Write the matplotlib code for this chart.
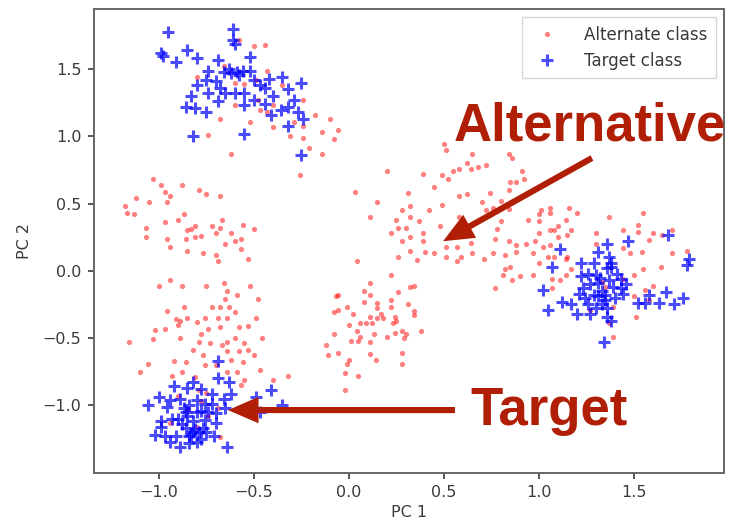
import matplotlib
matplotlib.use("Agg")
import matplotlib.pyplot as plt

# ---- Alternate class (PC1, PC2) ----
alt_top_left = [
    (-0.58, 1.72), (-0.50, 1.67), (-0.44, 1.68), (-0.66, 1.52), (-0.80, 1.44), (-0.60, 1.40),
    (-0.55, 1.39), (-0.49, 1.42), (-0.43, 1.49), (-0.35, 1.38), (-0.24, 1.27), (-0.60, 1.23),
    (-0.48, 1.27), (-0.47, 1.20), (-0.40, 1.23), (-0.43, 1.18), (-0.68, 1.13), (-0.52, 1.11),
    (-0.40, 1.07), (-0.29, 1.11), (-0.24, 1.08), (-0.18, 1.16), (-0.10, 1.13), (-0.14, 1.03),
    (-0.06, 1.05), (-0.08, 0.98), (-0.31, 1.00), (-0.24, 0.99), (-0.74, 1.01), (-0.62, 0.87),
    (-0.21, 0.91), (-0.14, 0.87), (-0.26, 0.71),
]
alt_mid_left = [
    (-1.03, 0.68), (-0.99, 0.64), (-0.88, 0.64), (-0.97, 0.59), (-0.94, 0.56), (-1.12, 0.54),
    (-1.05, 0.51), (-0.96, 0.51), (-0.79, 0.60), (-0.75, 0.57), (-0.68, 0.56), (-1.18, 0.48),
    (-1.17, 0.43), (-1.13, 0.42), (-0.87, 0.42), (-0.90, 0.38), (-0.97, 0.36), (-0.67, 0.38),
    (-1.07, 0.32), (-1.07, 0.25), (-0.85, 0.30), (-0.81, 0.33), (-0.72, 0.33), (-0.68, 0.32),
    (-0.56, 0.34), (-0.50, 0.31), (-0.70, 0.28), (-0.62, 0.28), (-0.86, 0.24), (-0.81, 0.25),
    (-0.96, 0.24), (-0.57, 0.24), (-0.60, 0.22), (-0.65, 0.20), (-0.94, 0.18), (-0.85, 0.15),
    (-0.77, 0.13), (-0.70, 0.12), (-0.57, 0.16), (-0.53, 0.09), (-0.69, 0.07), (-0.78, 0.26),
    (-0.83, 0.31),
]
alt_low_left = [
    (-0.94, -0.07), (-1.00, -0.11), (-0.88, -0.11), (-0.75, -0.11), (-0.66, -0.09), (-0.52, -0.11),
    (-0.64, -0.15), (-0.59, -0.18), (-0.65, -0.21), (-0.48, -0.21), (-0.96, -0.30), (-0.87, -0.27),
    (-0.72, -0.27), (-0.68, -0.27), (-0.63, -0.27), (-0.60, -0.31), (-0.91, -0.36), (-0.85, -0.35),
    (-0.76, -0.35), (-0.69, -0.35), (-0.64, -0.35), (-0.49, -0.35), (-0.89, -0.37), (-0.80, -0.38),
    (-1.02, -0.44), (-0.97, -0.43), (-0.90, -0.40), (-0.78, -0.47), (-0.74, -0.43), (-0.68, -0.42),
    (-0.58, -0.42), (-0.53, -0.41), (-1.16, -0.53), (-1.03, -0.51), (-0.89, -0.50), (-0.79, -0.53),
    (-0.73, -0.54), (-0.67, -0.55), (-0.64, -0.53), (-0.60, -0.50), (-0.55, -0.54), (-0.46, -0.50),
    (-0.82, -0.59), (-0.77, -0.63), (-0.64, -0.60), (-0.58, -0.60), (-0.53, -0.59), (-0.50, -0.63),
    (-0.92, -0.67), (-0.86, -0.68), (-0.76, -0.70), (-0.70, -0.70), (-0.62, -0.66), (-0.56, -0.68),
    (-1.06, -0.69), (-1.10, -0.75), (-0.88, -0.75), (-0.81, -0.79), (-0.64, -0.75), (-0.59, -0.75),
    (-0.55, -0.81), (-0.47, -0.74), (-0.40, -0.81), (-0.32, -0.78), (-0.93, -0.78), (-0.57, -0.85),
    (-0.79, -0.89), (-0.75, -0.91), (-0.69, -1.02), (-0.94, -1.13), (-0.68, -1.24), (-0.80, -1.16),
    (-0.85, -1.03), (-0.74, -1.08), (-0.90, -0.93), (-0.78, -0.97),
]
alt_center = [
    (0.50, 0.94), (0.51, 0.90), (0.65, 0.87), (0.62, 0.80), (0.64, 0.76), (0.68, 0.77),
    (0.72, 0.79), (0.58, 0.76), (0.55, 0.74), (0.84, 0.87), (0.86, 0.84), (0.91, 0.74),
    (0.85, 0.66), (0.88, 0.66), (0.92, 0.68), (0.20, 0.74), (0.39, 0.72), (0.49, 0.71),
    (0.52, 0.68), (0.45, 0.62), (0.03, 0.59), (0.31, 0.58), (0.58, 0.56), (0.62, 0.57),
    (0.74, 0.58), (0.70, 0.51), (0.80, 0.52), (0.84, 0.60), (0.15, 0.51), (0.32, 0.48),
    (0.49, 0.49), (0.42, 0.45), (0.28, 0.45), (0.72, 0.45), (0.76, 0.47), (0.84, 0.46),
    (0.11, 0.40), (0.32, 0.40), (0.25, 0.38), (0.37, 0.37), (0.58, 0.40), (0.80, 0.37),
    (0.22, 0.28), (0.26, 0.32), (0.30, 0.32), (0.39, 0.28), (0.48, 0.33), (0.32, 0.25),
    (0.39, 0.22), (0.28, 0.22), (0.78, 0.31), (0.77, 0.24), (0.84, 0.22), (0.88, 0.19),
    (0.93, 0.20), (0.98, 0.22), (0.51, 0.18), (0.57, 0.18), (0.64, 0.21), (0.32, 0.15),
    (0.40, 0.14), (0.45, 0.13), (0.51, 0.10), (0.59, 0.10), (0.65, 0.13), (0.71, 0.09),
    (0.76, 0.13), (0.82, 0.12), (0.88, 0.14), (0.97, 0.13), (0.26, 0.10), (0.36, 0.08),
    (0.57, 0.07), (0.04, 0.07), (0.85, 0.03), (0.81, -0.03), (0.86, -0.07), (0.90, -0.04),
    (0.97, -0.03), (0.77, -0.13), (0.82, 0.01),
]
alt_lower_mid = [
    (0.22, -0.03), (0.11, -0.09), (0.32, -0.12), (0.26, -0.16), (0.08, -0.15), (0.11, -0.18),
    (-0.06, -0.18), (0.02, -0.32), (0.15, -0.24), (0.22, -0.22), (0.31, -0.25), (0.34, -0.30),
    (0.17, -0.32), (0.08, -0.23), (0.15, -0.28), (0.34, -0.11), (0.22, -0.27), (-0.08, -0.31),
    (0.34, -0.33), (0.11, -0.34), (0.15, -0.35), (0.18, -0.35), (0.24, -0.34), (0.25, -0.37),
    (0.06, -0.39), (0.09, -0.39), (0.12, -0.39), (0.00, -0.40), (0.23, -0.39), (0.04, -0.45),
    (0.13, -0.47), (0.20, -0.49), (0.24, -0.46), (0.28, -0.45), (0.30, -0.47), (0.38, -0.45),
    (0.06, -0.49), (0.05, -0.52), (0.01, -0.52), (0.11, -0.53), (0.29, -0.50), (0.11, -0.62),
    (0.14, -0.66), (0.00, -0.66), (0.28, -0.61), (0.28, -0.69), (0.05, -0.78), (-0.02, -0.76),
    (-0.07, -0.19), (-0.06, -0.29), (-0.01, -0.27), (-0.12, -0.55), (-0.11, -0.63), (-0.06, -0.61),
    (-0.02, -0.89), (-0.01, -0.69), (-0.08, -0.47),
]
alt_right = [
    (1.01, 0.45), (1.06, 0.47), (0.94, 0.38), (1.00, 0.42), (1.08, 0.30), (1.10, 0.33),
    (1.15, 0.27), (1.02, 0.18), (1.00, 0.06), (1.05, 0.10), (1.06, 0.43), (1.00, 0.37),
    (1.00, 0.28), (1.06, 0.19), (1.06, 0.30), (1.10, 0.25), (1.14, 0.38), (1.16, 0.47),
    (1.20, 0.43), (1.17, 0.30), (1.08, 0.10), (1.14, 0.09), (1.15, 0.10), (1.07, -0.06),
    (1.11, -0.07), (1.07, -0.13), (1.14, -0.03), (1.17, 0.01), (1.30, 0.28), (1.30, 0.20),
    (1.37, 0.40), (1.44, 0.30), (1.55, 0.43), (1.52, 0.34), (1.52, 0.29), (1.60, 0.28),
    (1.58, 0.23), (1.54, 0.14), (1.48, 0.13), (1.44, 0.17), (1.70, 0.13), (1.78, 0.15),
    (1.55, 0.01), (1.64, 0.03), (1.50, -0.03), (1.60, -0.11), (1.56, -0.14), (1.58, -0.22),
    (1.51, -0.34), (1.39, -0.49), (1.37, -0.39), (1.44, -0.06), (1.50, -0.19), (1.35, -0.12),
    (1.39, -0.27), (1.70, 0.30), (1.65, 0.27), (1.33, -0.08), (1.27, -0.29),
]

# ---- Target class (PC1, PC2) ----
tgt_top = [
    (-0.95, 1.78), (-0.99, 1.62), (-0.98, 1.60), (-0.91, 1.55), (-0.85, 1.64), (-0.80, 1.58),
    (-0.61, 1.80), (-0.61, 1.72), (-0.60, 1.69), (-0.69, 1.57), (-0.52, 1.59), (-0.74, 1.49),
    (-0.66, 1.48), (-0.62, 1.47), (-0.59, 1.48), (-0.56, 1.49), (-0.52, 1.49), (-0.75, 1.42),
    (-0.70, 1.41), (-0.80, 1.38), (-0.74, 1.32), (-0.65, 1.32), (-0.60, 1.32), (-0.55, 1.32),
    (-0.50, 1.42), (-0.44, 1.36), (-0.42, 1.43), (-0.35, 1.44), (-0.40, 1.30), (-0.32, 1.35),
    (-0.25, 1.40), (-0.83, 1.30), (-0.69, 1.26), (-0.86, 1.22), (-0.81, 1.21), (-0.75, 1.18),
    (-0.55, 1.23), (-0.50, 1.27), (-0.41, 1.16), (-0.36, 1.20), (-0.32, 1.22), (-0.27, 1.18),
    (-0.24, 1.13), (-0.32, 1.08), (-0.82, 1.00), (-0.55, 1.02), (-0.25, 0.86), (-0.58, 1.46),
    (-0.63, 1.50), (-0.47, 1.38), (-0.68, 1.36), (-0.29, 1.27), (-0.44, 1.24),
]
tgt_bottom = [
    (-0.69, -0.67), (-0.69, -0.80), (-0.63, -0.83), (-0.82, -0.83), (-0.92, -0.86), (-0.85, -0.87),
    (-0.78, -0.88), (-0.72, -0.92), (-0.62, -0.92), (-0.41, -0.89), (-0.49, -0.94), (-1.00, -0.94),
    (-0.94, -0.96), (-0.89, -0.95), (-0.80, -0.96), (-0.76, -0.99), (-1.06, -1.00), (-0.96, -1.01),
    (-0.87, -1.02), (-0.84, -1.00), (-0.78, -1.04), (-0.65, -1.02), (-0.47, -1.05), (-0.35, -1.00),
    (-0.85, -1.08), (-0.90, -1.10), (-0.99, -1.12), (-0.93, -1.10), (-0.82, -1.12), (-0.76, -1.11),
    (-0.70, -1.13), (-0.99, -1.16), (-0.86, -1.17), (-0.77, -1.17), (-1.02, -1.22), (-0.97, -1.23),
    (-0.91, -1.23), (-0.83, -1.22), (-0.78, -1.25), (-0.71, -1.23), (-0.94, -1.27), (-0.89, -1.31),
    (-0.84, -1.28), (-0.80, -1.27), (-0.64, -1.31), (-0.84, -1.23), (-0.82, -1.20), (-0.80, -1.05),
    (-0.81, -1.18), (-0.79, -1.20), (-0.86, -1.05), (-0.74, -1.05), (-0.72, -0.99), (-0.88, -1.14),
    (-0.75, -1.20), (-0.70, -1.06), (-0.66, -0.95),
]
tgt_right = [
    (1.11, 0.16), (1.07, 0.03), (1.36, 0.20), (1.47, 0.22), (1.68, 0.27), (1.79, 0.09),
    (1.78, 0.04), (1.31, 0.14), (1.37, 0.10), (1.38, 0.03), (1.36, 0.02), (1.22, 0.06),
    (1.29, 0.06), (1.26, -0.02), (1.22, -0.04), (1.30, -0.03), (1.31, -0.09), (1.37, -0.07),
    (1.43, -0.06), (1.23, -0.13), (1.29, -0.18), (1.31, -0.19), (1.35, -0.18), (1.39, -0.12),
    (1.43, -0.13), (1.44, -0.17), (1.02, -0.14), (1.21, -0.17), (1.12, -0.23), (1.17, -0.25),
    (1.26, -0.25), (1.33, -0.25), (1.36, -0.28), (1.36, -0.34), (1.05, -0.29), (1.20, -0.32),
    (1.27, -0.32), (1.52, -0.24), (1.56, -0.24), (1.58, -0.18), (1.63, -0.24), (1.67, -0.16),
    (1.71, -0.25), (1.76, -0.20), (1.34, -0.53), (1.38, -0.37), (1.33, -0.15), (1.35, -0.22),
    (1.40, -0.20), (1.32, -0.05), (1.38, 0.06), (1.27, -0.10), (1.41, -0.02), (1.30, -0.28),
    (1.24, -0.20), (1.46, -0.10),
]

alt_pts = alt_top_left + alt_mid_left + alt_low_left + alt_center + alt_lower_mid + alt_right
tgt_pts = tgt_top + tgt_bottom + tgt_right
alt_x = [p[0] for p in alt_pts]
alt_y = [p[1] for p in alt_pts]
tgt_x = [p[0] for p in tgt_pts]
tgt_y = [p[1] for p in tgt_pts]

x_ticks = [-1.0, -0.5, 0.0, 0.5, 1.0, 1.5]
y_ticks = [-1.0, -0.5, 0.0, 0.5, 1.0, 1.5]

ANNOT = "#B01E05"
TXT = "#3a3a3a"

fig = plt.figure(figsize=(7.31, 5.27), dpi=100)
ax = fig.add_axes([0.1286, 0.1025, 0.8618, 0.8805])

ax.plot(alt_x, alt_y, ".", color="red", alpha=0.5, ms=7.5, mew=0, label="Alternate class")
ax.plot(tgt_x, tgt_y, "+", color="blue", alpha=0.7, ms=8.5, mew=2.2, label="Target class")

ax.set_xlim(-1.342, 1.974)
ax.set_ylim(-1.504, 1.948)
ax.set_xticks(x_ticks)
ax.set_yticks(y_ticks)
ax.tick_params(labelsize=11.5, colors=TXT, length=4, width=1.2, pad=5)
for s in ax.spines.values():
    s.set_color("#666666")
    s.set_linewidth(1.4)
ax.set_xlabel("PC 1", fontsize=11.5, color=TXT, labelpad=3)
ax.set_ylabel("PC 2", fontsize=11.5, color=TXT, labelpad=8)

leg = ax.legend(loc="upper right", fontsize=12, frameon=True, fancybox=False,
                edgecolor="#cccccc", labelcolor=TXT, handletextpad=1.2, borderpad=0.5)
leg.get_frame().set_linewidth(1.0)

arrow_kw = dict(arrowstyle="simple,head_length=1.1,head_width=0.95,tail_width=0.22",
                color=ANNOT, lw=0, shrinkA=0, shrinkB=0, mutation_scale=20)
ax.annotate("", xy=(0.495, 0.22), xytext=(1.279, 0.839), arrowprops=arrow_kw)
ax.annotate("", xy=(-0.637, -1.036), xytext=(0.558, -1.036), arrowprops=arrow_kw)

fig.text(0.620, 0.734, "Alternative", fontsize=38, fontweight="bold",
         family="Liberation Sans", color=ANNOT, ha="left", va="baseline")
fig.text(0.643, 0.1935, "Target", fontsize=38, fontweight="bold",
         family="Liberation Sans", color=ANNOT, ha="left", va="baseline")

fig.savefig("out.png", dpi=100)
